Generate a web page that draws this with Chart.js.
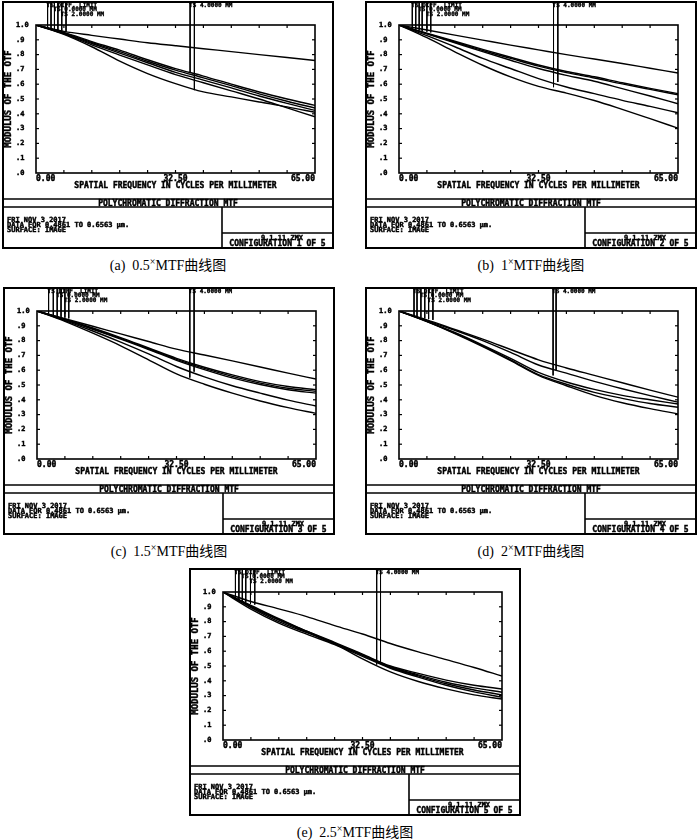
<!DOCTYPE html>
<html>
<head>
<meta charset="utf-8">
<script src="https://cdn.jsdelivr.net/npm/chart.js@4.4.0/dist/chart.umd.min.js"></script>
<style>
  body { margin: 0; background: #fff; }
  #page { position: relative; width: 700px; height: 840px; background: #fff; }
  .panel { position: absolute; width: 332px; height: 248px; }
  .cap { position: absolute; width: 332px; height: 18px; line-height: 18px; text-align: center;
         font: 14px "Liberation Serif", "Noto Sans CJK SC", serif; color: #000; }
  .cap sup { font-size: 10px; vertical-align: 5px; line-height: 0; }
</style>
</head>
<body>
<div id="page"></div>
<script>
// spatial frequency samples (cycles/mm)
const freq = [0, 6.5, 13, 19.5, 26, 32.5, 39, 45.5, 52, 58.5, 65];

// MTF curves
const curvesA = [
  [1.0, 0.957, 0.93, 0.905, 0.88, 0.86, 0.84, 0.82, 0.80, 0.78, 0.76],
  [1.0, 0.95, 0.888, 0.83, 0.765, 0.705, 0.655, 0.60, 0.547, 0.50, 0.457],
  [1.0, 0.947, 0.882, 0.82, 0.755, 0.695, 0.643, 0.59, 0.535, 0.485, 0.439],
  [1.0, 0.943, 0.875, 0.81, 0.745, 0.68, 0.628, 0.575, 0.52, 0.47, 0.423],
  [1.0, 0.94, 0.866, 0.797, 0.73, 0.665, 0.61, 0.555, 0.50, 0.44, 0.38],
  [1.0, 0.937, 0.853, 0.756, 0.672, 0.604, 0.548, 0.514, 0.48, 0.447, 0.41]
];
const curvesB = [
  [1.0, 0.966, 0.932, 0.898, 0.864, 0.832, 0.80, 0.77, 0.74, 0.708, 0.676],
  [1.0, 0.945, 0.89, 0.835, 0.782, 0.73, 0.686, 0.65, 0.61, 0.572, 0.536],
  [1.0, 0.942, 0.885, 0.828, 0.775, 0.722, 0.678, 0.642, 0.602, 0.565, 0.529],
  [1.0, 0.94, 0.88, 0.82, 0.762, 0.706, 0.66, 0.62, 0.57, 0.52, 0.468],
  [1.0, 0.928, 0.853, 0.774, 0.706, 0.638, 0.581, 0.536, 0.491, 0.45, 0.407],
  [1.0, 0.914, 0.819, 0.728, 0.649, 0.585, 0.54, 0.49, 0.43, 0.367, 0.303]
];
const curvesC = [
  [1.0, 0.948, 0.897, 0.845, 0.794, 0.742, 0.703, 0.663, 0.622, 0.58, 0.54],
  [1.0, 0.945, 0.885, 0.82, 0.75, 0.68, 0.62, 0.568, 0.523, 0.49, 0.468],
  [1.0, 0.943, 0.88, 0.815, 0.745, 0.673, 0.612, 0.558, 0.513, 0.478, 0.457],
  [1.0, 0.94, 0.876, 0.81, 0.74, 0.667, 0.604, 0.548, 0.503, 0.468, 0.445],
  [1.0, 0.935, 0.865, 0.79, 0.71, 0.625, 0.555, 0.495, 0.445, 0.398, 0.358],
  [1.0, 0.93, 0.85, 0.765, 0.67, 0.575, 0.505, 0.445, 0.392, 0.347, 0.308]
];
const curvesD = [
  [1.0, 0.94, 0.875, 0.81, 0.74, 0.67, 0.615, 0.565, 0.515, 0.465, 0.418],
  [1.0, 0.935, 0.87, 0.80, 0.72, 0.635, 0.58, 0.525, 0.475, 0.428, 0.384],
  [1.0, 0.93, 0.855, 0.77, 0.68, 0.585, 0.52, 0.47, 0.43, 0.40, 0.372],
  [1.0, 0.93, 0.85, 0.765, 0.67, 0.57, 0.505, 0.45, 0.41, 0.375, 0.35],
  [1.0, 0.928, 0.848, 0.76, 0.665, 0.565, 0.495, 0.43, 0.38, 0.34, 0.305]
];
const curvesE = [
  [1.0, 0.936, 0.886, 0.834, 0.773, 0.716, 0.652, 0.595, 0.543, 0.49, 0.432],
  [1.0, 0.905, 0.815, 0.735, 0.66, 0.58, 0.50, 0.45, 0.405, 0.37, 0.345],
  [1.0, 0.90, 0.81, 0.73, 0.655, 0.575, 0.495, 0.44, 0.39, 0.352, 0.323],
  [1.0, 0.895, 0.80, 0.725, 0.652, 0.572, 0.49, 0.433, 0.38, 0.338, 0.305],
  [1.0, 0.885, 0.79, 0.715, 0.645, 0.565, 0.485, 0.425, 0.37, 0.325, 0.289],
  [1.0, 0.91, 0.82, 0.735, 0.65, 0.548, 0.46, 0.395, 0.345, 0.305, 0.277]
];

// legend marker lines: x position and where each one meets its curve
const legXA = [2.7, 3.5, 4.3, 5.1, 6.0, 7.0, 35.9, 36.9];
const legEndA = [0.98, 0.975, 0.97, 0.965, 0.96, 0.955, 0.68, 0.56];
const legXB = [3.1, 3.9, 4.7, 5.4, 6.5, 7.4, 36.0, 37.0];
const legEndB = [0.975, 0.97, 0.965, 0.96, 0.955, 0.95, 0.58, 0.615];
const legXC = [2.7, 3.8, 4.7, 5.6, 6.5, 7.4, 35.6, 36.6];
const legEndC = [0.975, 0.97, 0.965, 0.96, 0.955, 0.95, 0.55, 0.59];
const legXD = [3.5, 4.2, 5.1, 6.0, 6.9, 7.9, 35.9, 36.6];
const legEndD = [0.965, 0.96, 0.955, 0.95, 0.945, 0.94, 0.565, 0.60];
const legXE = [2.9, 3.7, 4.5, 5.3, 6.4, 7.4, 35.8, 36.7];
const legEndE = [0.95, 0.945, 0.935, 0.93, 0.92, 0.915, 0.51, 0.525];

const legendLabels = ['TS DIFF. LIMIT', 'TS 0.0000 MM', 'TS 2.0000 MM', 'TS 4.0000 MM'];
const yTickLabels = ['.0', '.1', '.2', '.3', '.4', '.5', '.6', '.7', '.8', '.9', '1.0'];
const xTickLabels = ['0.00', '32.50', '65.00'];
const captionTags = ['(a)', '(b)', '(c)', '(d)', '(e)'];
const magnifications = ['0.5', '1', '1.5', '2', '2.5'];

const panelPos = [[2, 1], [365, 1], [3, 287], [365, 287], [189, 568]];
const W = 332, H = 248;
const MONO = '"DejaVu Sans Mono", "Liberation Mono", monospace';

function seg(ctx, x1, y1, x2, y2) {
  ctx.beginPath(); ctx.moveTo(x1, y1); ctx.lineTo(x2, y2); ctx.stroke();
}

// heavy plotter-style text: fill plus a thin outline
function heavy(ctx, txt, px, py) {
  ctx.fillText(txt, px, py);
  ctx.strokeText(txt, px, py);
}

const zemaxPlugin = {
  id: 'zemax',
  beforeDraw(chart) {
    const ctx = chart.ctx;
    ctx.save();
    ctx.fillStyle = '#fff';
    ctx.fillRect(0, 0, chart.width, chart.height);
    ctx.restore();
  },
  afterDraw(chart, args, opts) {
    const { ctx, chartArea: ca } = chart;
    const x = chart.scales.x, y = chart.scales.y;
    ctx.save();
    ctx.strokeStyle = '#000';
    ctx.fillStyle = '#000';

    // outer frame and report boxes
    ctx.lineWidth = 2;
    ctx.strokeRect(1, 1, W - 2, H - 2);
    ctx.lineWidth = 1.6;
    seg(ctx, 0, 198, W, 198);
    seg(ctx, 0, 206, W, 206);
    seg(ctx, 220, 206, 220, H);
    seg(ctx, 220, 232, W, 232);

    // plot box
    ctx.strokeRect(ca.left, ca.top, ca.right - ca.left, ca.bottom - ca.top);

    // inward ticks
    ctx.lineWidth = 1.2;
    for (let i = 1; i < 10; i++) {
      const px = x.getPixelForValue(i * 6.5);
      seg(ctx, px, ca.top, px, ca.top + 3);
      seg(ctx, px, ca.bottom, px, ca.bottom - 3);
      const py = y.getPixelForValue(i / 10);
      seg(ctx, ca.left, py, ca.left + 3, py);
      seg(ctx, ca.right, py, ca.right - 3, py);
    }

    ctx.lineWidth = 0.45;

    // y tick labels
    ctx.font = 'bold 7px ' + MONO;
    ctx.textBaseline = 'middle';
    ctx.textAlign = 'left';
    yTickLabels.forEach((t, i) => heavy(ctx, t, 14, y.getPixelForValue(i / 10)));

    // x tick labels
    ctx.font = 'bold 8px ' + MONO;
    ctx.textAlign = 'left';
    heavy(ctx, xTickLabels[0], x.getPixelForValue(0), ca.bottom + 6);
    ctx.textAlign = 'center';
    heavy(ctx, xTickLabels[1], x.getPixelForValue(32.5), ca.bottom + 6);
    ctx.textAlign = 'right';
    heavy(ctx, xTickLabels[2], x.getPixelForValue(65), ca.bottom + 6);

    // axis titles
    ctx.textAlign = 'center';
    heavy(ctx, 'SPATIAL FREQUENCY IN CYCLES PER MILLIMETER', (ca.left + ca.right) / 2, ca.bottom + 12.5);
    ctx.save();
    ctx.translate(7, (ca.top + ca.bottom) / 2);
    ctx.rotate(-Math.PI / 2);
    ctx.font = 'bold 9px ' + MONO;
    heavy(ctx, 'MODULUS OF THE OTF', 0, 0);
    ctx.restore();

    // legend labels
    const lx = opts.legX;
    ctx.font = 'bold 6px ' + MONO;
    ctx.textAlign = 'left';
    ctx.lineWidth = 0.35;
    heavy(ctx, legendLabels[0], x.getPixelForValue(lx[0]) - 1, 4);
    heavy(ctx, legendLabels[1], x.getPixelForValue(lx[2]) - 1, 8.5);
    heavy(ctx, legendLabels[2], x.getPixelForValue(lx[4]) - 1, 13);
    heavy(ctx, legendLabels[3], x.getPixelForValue(lx[6]) - 1, 4);
    ctx.lineWidth = 0.45;

    // title bar
    ctx.font = 'bold 8px ' + MONO;
    ctx.textAlign = 'center';
    heavy(ctx, 'POLYCHROMATIC DIFFRACTION MTF', W / 2, 202.5);

    // info block
    ctx.font = 'bold 7px ' + MONO;
    ctx.textAlign = 'left';
    heavy(ctx, 'FRI NOV 3 2017', 5, 219);
    heavy(ctx, 'DATA FOR 0.4861 TO 0.6563 \u00b5m.', 5, 224);
    heavy(ctx, 'SURFACE: IMAGE', 5, 229);
    ctx.textAlign = 'center';
    heavy(ctx, '9.1.11.ZMX', 280, 237.5);
    ctx.font = 'bold 8px ' + MONO;
    heavy(ctx, 'CONFIGURATION ' + opts.config + ' OF 5', 275.5, 243);
    ctx.restore();
  }
};

function buildDatasets(curves, legX, legEnd) {
  const ds = curves.map(vals => ({
    data: vals.map((v, i) => ({ x: freq[i], y: v })),
    borderColor: '#000',
    borderWidth: 1.4,
    pointRadius: 0,
    fill: false,
    cubicInterpolationMode: 'monotone'
  }));
  legX.forEach((xv, i) => {
    ds.push({
      data: [{ x: xv, y: 1.15 }, { x: xv, y: legEnd[i] }],
      borderColor: '#000',
      borderWidth: 1,
      pointRadius: 0,
      fill: false,
      clip: false
    });
  });
  return ds;
}

const allCurves = [curvesA, curvesB, curvesC, curvesD, curvesE];
const allLegX = [legXA, legXB, legXC, legXD, legXE];
const allLegEnd = [legEndA, legEndB, legEndC, legEndD, legEndE];

const page = document.getElementById('page');
allCurves.forEach((curves, k) => {
  const [left, top] = panelPos[k];
  const holder = document.createElement('div');
  holder.className = 'panel';
  holder.style.left = left + 'px';
  holder.style.top = top + 'px';
  const canvas = document.createElement('canvas');
  canvas.width = W;
  canvas.height = H;
  holder.appendChild(canvas);
  page.appendChild(holder);

  const cap = document.createElement('div');
  cap.className = 'cap';
  cap.style.left = left + 'px';
  cap.style.top = (top + 253) + 'px';
  cap.innerHTML = captionTags[k] + '&nbsp;&nbsp;' + magnifications[k] + '<sup>\u00d7</sup>MTF曲线图';
  page.appendChild(cap);

  new Chart(canvas.getContext('2d'), {
    type: 'line',
    data: { datasets: buildDatasets(curves, allLegX[k], allLegEnd[k]) },
    options: {
      responsive: false,
      animation: false,
      layout: { padding: { left: 34, right: W - 313, top: 24, bottom: H - 172 } },
      scales: {
        x: { type: 'linear', min: 0, max: 65, display: false },
        y: { type: 'linear', min: 0, max: 1, display: false }
      },
      plugins: {
        legend: { display: false },
        tooltip: { enabled: false },
        zemax: { config: k + 1, legX: allLegX[k] }
      }
    },
    plugins: [zemaxPlugin]
  });
});
</script>
</body>
</html>
